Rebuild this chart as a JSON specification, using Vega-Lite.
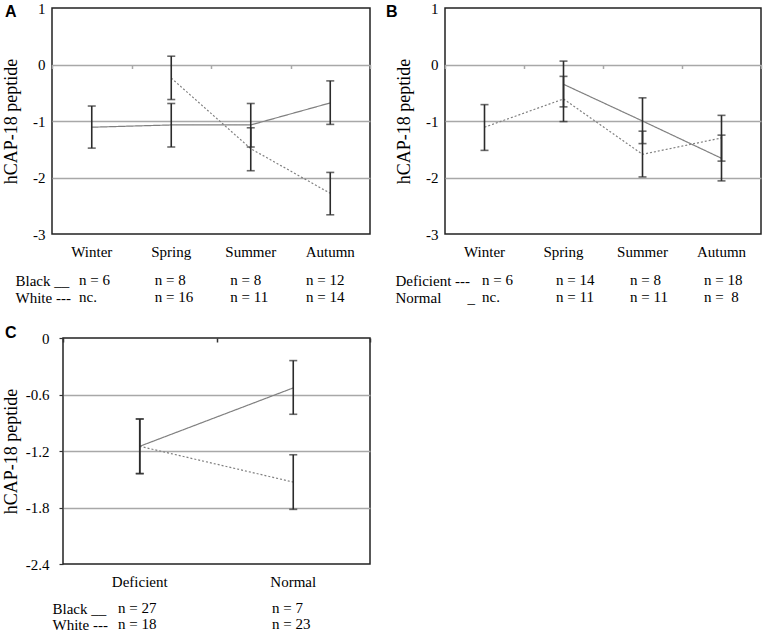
{
  "$schema": "https://vega.github.io/schema/vega-lite/v6.json",
  "background": "white",
  "padding": {"left": 0, "top": 0, "right": 0, "bottom": 0},
  "datasets": {
    "a": [
      {"season": "Winter", "i": 0, "group": "Black", "mean": -1.11, "lo": -1.48, "hi": -0.735},
      {"season": "Spring", "i": 1, "group": "Black", "mean": -1.07, "lo": -1.46, "hi": -0.69},
      {"season": "Summer", "i": 2, "group": "Black", "mean": -1.07, "lo": -1.46, "hi": -0.69},
      {"season": "Autumn", "i": 3, "group": "Black", "mean": -0.68, "lo": -1.06, "hi": -0.29},
      {"season": "Spring", "i": 1, "group": "White", "mean": -0.24, "lo": -0.62, "hi": 0.147},
      {"season": "Summer", "i": 2, "group": "White", "mean": -1.49, "lo": -1.88, "hi": -1.12},
      {"season": "Autumn", "i": 3, "group": "White", "mean": -2.28, "lo": -2.66, "hi": -1.91}
    ],
    "an": [
      {"row": "Black __", "season": "Winter", "n": "n = 6"},
      {"row": "Black __", "season": "Spring", "n": "n = 8"},
      {"row": "Black __", "season": "Summer", "n": "n = 8"},
      {"row": "Black __", "season": "Autumn", "n": "n = 12"},
      {"row": "White ---", "season": "Winter", "n": "nc."},
      {"row": "White ---", "season": "Spring", "n": "n = 16"},
      {"row": "White ---", "season": "Summer", "n": "n = 11"},
      {"row": "White ---", "season": "Autumn", "n": "n = 14"}
    ],
    "b": [
      {"season": "Winter", "i": 0, "group": "Deficient", "mean": -1.11, "lo": -1.52, "hi": -0.71},
      {"season": "Spring", "i": 1, "group": "Deficient", "mean": -0.61, "lo": -1.01, "hi": -0.21},
      {"season": "Summer", "i": 2, "group": "Deficient", "mean": -1.59, "lo": -1.99, "hi": -1.18},
      {"season": "Autumn", "i": 3, "group": "Deficient", "mean": -1.3, "lo": -1.71, "hi": -0.9},
      {"season": "Spring", "i": 1, "group": "Normal", "mean": -0.35, "lo": -0.75, "hi": 0.06},
      {"season": "Summer", "i": 2, "group": "Normal", "mean": -1.0, "lo": -1.4, "hi": -0.59},
      {"season": "Autumn", "i": 3, "group": "Normal", "mean": -1.66, "lo": -2.06, "hi": -1.25}
    ],
    "bn": [
      {"row": "Deficient ---", "season": "Winter", "n": "n = 6"},
      {"row": "Deficient ---", "season": "Spring", "n": "n = 14"},
      {"row": "Deficient ---", "season": "Summer", "n": "n = 8"},
      {"row": "Deficient ---", "season": "Autumn", "n": "n = 18"},
      {"row": "Normal\u00a0\u00a0\u00a0\u00a0\u00a0\u00a0\u00a0_", "season": "Winter", "n": "nc."},
      {"row": "Normal\u00a0\u00a0\u00a0\u00a0\u00a0\u00a0\u00a0_", "season": "Spring", "n": "n = 11"},
      {"row": "Normal\u00a0\u00a0\u00a0\u00a0\u00a0\u00a0\u00a0_", "season": "Summer", "n": "n = 11"},
      {"row": "Normal\u00a0\u00a0\u00a0\u00a0\u00a0\u00a0\u00a0_", "season": "Autumn", "n": "n =\u00a0\u00a08"}
    ],
    "c": [
      {"status": "Deficient", "i": 0, "group": "Black", "mean": -1.15, "lo": -1.44, "hi": -0.86},
      {"status": "Normal", "i": 1, "group": "Black", "mean": -0.53, "lo": -0.81, "hi": -0.24},
      {"status": "Deficient", "i": 0, "group": "White", "mean": -1.15, "lo": -1.44, "hi": -0.86},
      {"status": "Normal", "i": 1, "group": "White", "mean": -1.53, "lo": -1.82, "hi": -1.24}
    ],
    "cn": [
      {"row": "Black __", "status": "Deficient", "n": "n = 27"},
      {"row": "Black __", "status": "Normal", "n": "n = 7"},
      {"row": "White ---", "status": "Deficient", "n": "n = 18"},
      {"row": "White ---", "status": "Normal", "n": "n = 23"}
    ],
    "none": []
  },
  "columns": 1,
  "spacing": 19,
  "resolve": {"scale": {"x": "independent", "y": "independent", "strokeDash": "independent"}},
  "concat": [
    {
      "spacing": 0,
      "resolve": {"scale": {"x": "independent", "y": "independent", "strokeDash": "independent"}},
      "hconcat": [
        {"width": 1, "height": 1, "view": {"stroke": null}, "data": {"name": "none"}, "mark": "point"},
        {
          "spacing": 13,
          "resolve": {"scale": {"x": "independent", "y": "independent", "strokeDash": "independent"}},
          "hconcat": [
            {
              "spacing": 13,
              "resolve": {"scale": {"x": "independent", "y": "independent"}},
              "vconcat": [
                {
                  "width": 318,
                  "height": 226,
                  "title": {"text": "A", "dx": -47, "dy": 23},
                  "data": {"name": "a"},
                  "resolve": {"axis": {"x": "independent"}},
                  "encoding": {
                    "x": {"field": "season", "type": "nominal", "bandPosition": 0.5,
                      "scale": {"type": "band", "domain": ["Winter", "Spring", "Summer", "Autumn"], "paddingInner": 0, "paddingOuter": 0},
                      "axis": null},
                    "y": {"field": "mean", "type": "quantitative",
                      "scale": {"domain": [-3, 1], "nice": false, "zero": false},
                      "axis": {"title": "hCAP-18 peptide", "values": [1, 0, -1, -2, -3],
                        "gridColor": {"condition": {"test": "datum.value == 1 || datum.value == -3", "value": "transparent"}, "value": "#a8a8a8"}}}
                  },
                  "layer": [
                    {
                      "mark": {"type": "line", "color": "#808080", "strokeWidth": 1.2},
                      "encoding": {
                        "x": {"field": "season", "type": "nominal", "bandPosition": 0.5, "axis": {"title": null, "orient": "bottom"}},
                        "strokeDash": {"field": "group", "type": "nominal", "scale": {"domain": ["Black", "White"], "range": [[1, 0], [2, 2]]}, "legend": null},
                        "order": {"field": "i", "type": "quantitative"}
                      }
                    },
                    {
                      "mark": {"type": "rule", "color": "#2b2b2b", "strokeWidth": 1.6},
                      "encoding": {
                        "x": {"field": "season", "type": "nominal", "bandPosition": 0.5,
                          "axis": {"title": null, "orient": "bottom", "labels": false, "ticks": true, "tickBand": "extent", "tickSize": 4, "tickWidth": 1.5, "tickColor": "#a8a8a8", "offset": -169.5}},
                        "y": {"field": "lo", "type": "quantitative"}, "y2": {"field": "hi"}}
                    },
                    {
                      "mark": {"type": "tick", "color": "#2b2b2b", "thickness": 1.6, "size": 8},
                      "encoding": {"y": {"field": "lo", "type": "quantitative"}}
                    },
                    {
                      "mark": {"type": "tick", "color": "#2b2b2b", "thickness": 1.6, "size": 8},
                      "encoding": {"y": {"field": "hi", "type": "quantitative"}}
                    }
                  ]
                },
                {
                  "width": 281,
                  "height": 17,
                  "view": {"stroke": null},
                  "data": {"name": "an"},
                  "mark": {"type": "text", "align": "left", "baseline": "middle", "font": "Liberation Serif", "fontSize": 15, "color": "#000"},
                  "encoding": {
                    "x": {"field": "season", "type": "nominal", "scale": {"type": "point", "domain": ["Winter", "Spring", "Summer", "Autumn"], "padding": 0.357}, "axis": null},
                    "y": {"field": "row", "type": "nominal", "scale": {"type": "point", "domain": ["Black __", "White ---"], "padding": 0},
                      "axis": {"title": null, "grid": false, "labelAlign": "left", "labelPadding": 37, "labelBaseline": "middle"}},
                    "text": {"field": "n", "type": "nominal"}
                  }
                }
              ]
            },
            {
              "spacing": 13,
              "resolve": {"scale": {"x": "independent", "y": "independent"}},
              "vconcat": [
                {
                  "width": 316,
                  "height": 226,
                  "title": {"text": "B", "dx": -59, "dy": 23},
                  "data": {"name": "b"},
                  "resolve": {"axis": {"x": "independent"}},
                  "encoding": {
                    "x": {"field": "season", "type": "nominal", "bandPosition": 0.5,
                      "scale": {"type": "band", "domain": ["Winter", "Spring", "Summer", "Autumn"], "paddingInner": 0, "paddingOuter": 0},
                      "axis": null},
                    "y": {"field": "mean", "type": "quantitative",
                      "scale": {"domain": [-3, 1], "nice": false, "zero": false},
                      "axis": {"title": "hCAP-18 peptide", "values": [1, 0, -1, -2, -3],
                        "gridColor": {"condition": {"test": "datum.value == 1 || datum.value == -3", "value": "transparent"}, "value": "#a8a8a8"}}}
                  },
                  "layer": [
                    {
                      "mark": {"type": "line", "color": "#808080", "strokeWidth": 1.2},
                      "encoding": {
                        "x": {"field": "season", "type": "nominal", "bandPosition": 0.5, "axis": {"title": null, "orient": "bottom"}},
                        "strokeDash": {"field": "group", "type": "nominal", "scale": {"domain": ["Normal", "Deficient"], "range": [[1, 0], [2, 2]]}, "legend": null},
                        "order": {"field": "i", "type": "quantitative"}
                      }
                    },
                    {
                      "mark": {"type": "rule", "color": "#2b2b2b", "strokeWidth": 1.6},
                      "encoding": {
                        "x": {"field": "season", "type": "nominal", "bandPosition": 0.5,
                          "axis": {"title": null, "orient": "bottom", "labels": false, "ticks": true, "tickBand": "extent", "tickSize": 4, "tickWidth": 1.5, "tickColor": "#a8a8a8", "offset": -169.5}},
                        "y": {"field": "lo", "type": "quantitative"}, "y2": {"field": "hi"}}
                    },
                    {
                      "mark": {"type": "tick", "color": "#2b2b2b", "thickness": 1.6, "size": 8},
                      "encoding": {"y": {"field": "lo", "type": "quantitative"}}
                    },
                    {
                      "mark": {"type": "tick", "color": "#2b2b2b", "thickness": 1.6, "size": 8},
                      "encoding": {"y": {"field": "hi", "type": "quantitative"}}
                    }
                  ]
                },
                {
                  "width": 296,
                  "height": 17,
                  "view": {"stroke": null},
                  "data": {"name": "bn"},
                  "mark": {"type": "text", "align": "left", "baseline": "middle", "font": "Liberation Serif", "fontSize": 15, "color": "#000"},
                  "encoding": {
                    "x": {"field": "season", "type": "nominal", "scale": {"type": "point", "domain": ["Winter", "Spring", "Summer", "Autumn"], "padding": 0.5}, "axis": null},
                    "y": {"field": "row", "type": "nominal", "scale": {"type": "point", "domain": ["Deficient ---", "Normal\u00a0\u00a0\u00a0\u00a0\u00a0\u00a0\u00a0_"], "padding": 0},
                      "axis": {"title": null, "grid": false, "labelAlign": "left", "labelPadding": 50, "labelBaseline": "middle"}},
                    "text": {"field": "n", "type": "nominal"}
                  }
                }
              ]
            }
          ]
        }
      ]
    },
    {
      "spacing": 0,
      "resolve": {"scale": {"x": "independent", "y": "independent", "strokeDash": "independent"}},
      "hconcat": [
        {"width": 1, "height": 1, "view": {"stroke": null}, "data": {"name": "none"}, "mark": "point"},
        {
          "spacing": 11,
          "resolve": {"scale": {"x": "independent", "y": "independent"}},
          "vconcat": [
            {
              "width": 307,
              "height": 226,
              "title": {"text": "C", "dx": -58, "dy": 14},
              "data": {"name": "c"},
              "resolve": {"axis": {"x": "independent"}},
              "encoding": {
                "x": {"field": "status", "type": "nominal", "bandPosition": 0.5,
                  "scale": {"type": "band", "domain": ["Deficient", "Normal"], "paddingInner": 0, "paddingOuter": 0},
                  "axis": null},
                "y": {"field": "mean", "type": "quantitative",
                  "scale": {"domain": [-2.4, 0], "nice": false, "zero": false},
                  "axis": {"title": "hCAP-18 peptide", "values": [0, -0.6, -1.2, -1.8, -2.4],
                    "ticks": true, "tickSize": 4, "tickColor": "#333", "tickWidth": 1.2, "labelPadding": 10, "titlePadding": 5,
                    "gridColor": {"condition": {"test": "datum.value == 0 || datum.value == -2.4", "value": "transparent"}, "value": "#a8a8a8"}}}
              },
              "layer": [
                {
                  "mark": {"type": "line", "color": "#808080", "strokeWidth": 1.2},
                  "encoding": {
                    "x": {"field": "status", "type": "nominal", "bandPosition": 0.5, "axis": {"title": null, "orient": "bottom"}},
                    "strokeDash": {"field": "group", "type": "nominal", "scale": {"domain": ["Black", "White"], "range": [[1, 0], [2, 2]]}, "legend": null},
                    "order": {"field": "i", "type": "quantitative"}
                  }
                },
                {
                  "mark": {"type": "rule", "color": "#2b2b2b", "strokeWidth": 1.6},
                  "encoding": {
                    "x": {"field": "status", "type": "nominal", "bandPosition": 0.5,
                      "axis": {"title": null, "orient": "bottom", "labels": false, "ticks": true, "tickBand": "extent", "tickSize": 4, "tickWidth": 1.5, "tickColor": "#333", "offset": -226}},
                    "y": {"field": "lo", "type": "quantitative"}, "y2": {"field": "hi"}}
                },
                {
                  "mark": {"type": "tick", "color": "#2b2b2b", "thickness": 1.6, "size": 8},
                  "encoding": {"y": {"field": "lo", "type": "quantitative"}}
                },
                {
                  "mark": {"type": "tick", "color": "#2b2b2b", "thickness": 1.6, "size": 8},
                  "encoding": {"y": {"field": "hi", "type": "quantitative"}}
                }
              ]
            },
            {
              "width": 264,
              "height": 16,
              "view": {"stroke": null},
              "data": {"name": "cn"},
              "mark": {"type": "text", "align": "left", "baseline": "middle", "font": "Liberation Serif", "fontSize": 15, "color": "#000"},
              "encoding": {
                "x": {"field": "status", "type": "nominal", "scale": {"type": "point", "domain": ["Deficient", "Normal"], "padding": 0.357}, "axis": null},
                "y": {"field": "row", "type": "nominal", "scale": {"type": "point", "domain": ["Black __", "White ---"], "padding": 0},
                  "axis": {"title": null, "grid": false, "labelAlign": "left", "labelPadding": 11, "labelBaseline": "middle"}},
                "text": {"field": "n", "type": "nominal"}
              }
            }
          ]
        }
      ]
    }
  ],
  "config": {
    "font": "Liberation Serif",
    "view": {"stroke": "#222", "strokeWidth": 1.5},
    "text": {"font": "Liberation Serif"},
    "style": {
      "guide-label": {"font": "Liberation Serif", "fontSize": 15, "fill": "#000"},
      "guide-title": {"font": "Liberation Serif", "fontSize": 18, "fontWeight": "normal", "fill": "#000"}
    },
    "title": {"font": "Liberation Sans", "fontSize": 16, "fontWeight": "bold", "color": "#000", "anchor": "start", "frame": "group", "offset": 0, "baseline": "alphabetic"},
    "axis": {
      "labelFont": "Liberation Serif", "labelFontSize": 15, "labelColor": "#000",
      "titleFont": "Liberation Serif", "titleFontSize": 18, "titleFontWeight": "normal", "titleColor": "#000",
      "domain": false, "ticks": false, "tickSize": 0
    },
    "axisX": {"grid": false, "labelAngle": 0, "labelPadding": 10},
    "axisY": {"grid": true, "gridWidth": 1.5, "labelPadding": 7, "titlePadding": 12, "labelExpr": "'' + datum.value"}
  }
}
